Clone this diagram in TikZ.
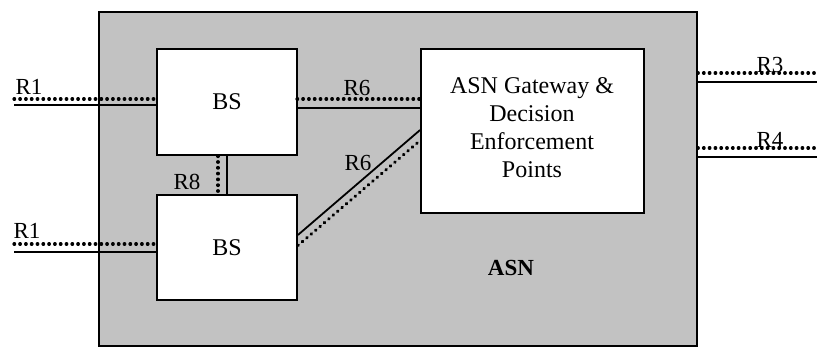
\documentclass[tikz,border=0pt]{standalone}
\usepackage{fontspec}
\setmainfont{Liberation Serif}
\begin{document}
\begin{tikzpicture}[x=1pt,y=-1pt,
  box/.style={draw=black,line width=1.8pt,fill=white,inner sep=0pt},
  solidln/.style={line width=1.8pt},
  dotln/.style={line width=3.2pt,dash pattern=on 0.6pt off 5.2pt,line cap=round},
  rlab/.style={inner sep=0pt,font=\fontsize{23}{26}\selectfont},
  big/.style={font=\fontsize{24}{28}\selectfont}]
\useasboundingbox (0,0) rectangle (817,347);
% ASN area
\node[draw=black,line width=1.4pt,fill=black!24,minimum width=598pt,minimum height=334pt,inner sep=0pt] (asn) at (398,179) {};
\node[box,minimum width=140pt,minimum height=106pt] (bs1) at (227,102) {};
\node[box,minimum width=140pt,minimum height=105pt] (bs2) at (227,247.5) {};
\node[box,minimum width=223pt,minimum height=164pt] (gw) at (532.5,131) {};
\node[big] at (bs1.center) {BS};
\node[big] at (bs2.center) {BS};
\node[big,align=center,inner sep=0pt] (gwt) at (532,128) {ASN Gateway \&\\Decision\\Enforcement\\Points};
\node[inner sep=0pt,font=\fontsize{23}{28}\selectfont\bfseries] (asnl) at (511,268) {ASN};
% coordinates of free ends
\coordinate (r1a) at (14,105);
\coordinate (r1b) at (14,252);
\coordinate (r3) at (817,82);
\coordinate (r4) at (817,157);
% R1 upper
\draw[solidln] (r1a) -- (r1a -| bs1.west);
\draw[dotln] ([yshift=6pt]r1a) -- ([yshift=6pt]r1a -| bs1.west);
% R1 lower
\draw[solidln] (r1b) -- (r1b -| bs2.west);
\draw[dotln] ([yshift=8pt]r1b) -- ([yshift=8pt]r1b -| bs2.west);
% R6 upper
\coordinate (r6a) at (297,108);
\draw[solidln] (r6a) -- (r6a -| gw.west);
\draw[dotln] ([yshift=9pt]r6a) -- ([yshift=9pt]r6a -| gw.west);
% R6 diagonal
\coordinate (d1) at (bs2.east |- 0,235);
\coordinate (d2) at (gw.west |- 0,130);
\draw[solidln] (d1) -- (d2);
\draw[dotln] ([yshift=-10.5pt]d1) -- ([yshift=-10.5pt]d2);
% R8
\coordinate (r8) at (227,0);
\draw[solidln] (r8 |- bs1.south) -- (r8 |- bs2.north);
\draw[dotln] ([xshift=-9pt]r8 |- bs1.south) -- ([xshift=-9pt]r8 |- bs2.north);
% R3, R4
\draw[solidln] (r3 -| asn.east) -- (r3);
\draw[dotln] ([yshift=9pt]r3 -| asn.east) -- ([yshift=9pt]r3);
\draw[solidln] (r4 -| asn.east) -- (r4);
\draw[dotln] ([yshift=9pt]r4 -| asn.east) -- ([yshift=9pt]r4);
% labels
\node[rlab] (l1) at (29,87) {R1};
\node[rlab] (l2) at (27,231) {R1};
\node[rlab] (l3) at (357,88) {R6};
\node[rlab] (l4) at (358,163) {R6};
\node[rlab] (l5) at (187,182) {R8};
\node[rlab] (l6) at (770,65) {R3};
\node[rlab] (l7) at (770,140) {R4};
\end{tikzpicture}
\end{document}
